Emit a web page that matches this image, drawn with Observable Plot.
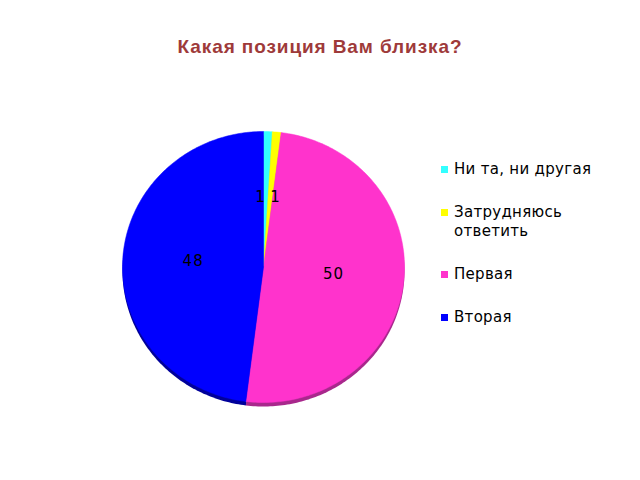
<!DOCTYPE html>
<html><head><meta charset="utf-8">
<script src="https://cdn.jsdelivr.net/npm/d3@7"></script>
<script src="https://cdn.jsdelivr.net/npm/@observablehq/plot@0.6"></script>
<style>
body{margin:0;background:#fff;width:640px;height:480px;position:relative;overflow:hidden}
#title{height:80px;box-sizing:border-box;padding-top:35px;text-align:center;font:bold 19px "Liberation Sans",Arial,sans-serif;letter-spacing:0.9px;color:#9E3A3A;line-height:23px}
#legend{position:absolute;left:441px;top:160px;font:15px "DejaVu Sans",sans-serif;letter-spacing:0.3px;color:#000;line-height:19px}
.item{position:relative;padding-left:13px;margin-bottom:24px}
.sw{position:absolute;left:0;top:6px;width:7px;height:7px}
</style></head>
<body>
<div id="title">Какая позиция Вам близка?</div>
<div id="chart"></div>
<div id="legend"></div>
<script>
const categories = ["Ни та, ни другая", "Затрудняюсь ответить", "Первая", "Вторая"];
const legendLabels = ["Ни та, ни другая", "Затрудняюсь<br>ответить", "Первая", "Вторая"];
const values = [1, 1, 50, 48];
const colors = ["#33FFFF", "#FFFF00", "#FF33CC", "#0000FF"];
const shadeColors = ["#22AAAA", "#AAAA00", "#A8288C", "#00009A"];

const arcs = d3.pie().sort(null).value(d => d.value)(categories.map((c, i) => ({name: c, value: values[i], i})));

function slicePoints(a) {
  const pts = [{x: 0, y: 0}];
  const n = Math.max(2, Math.ceil((a.endAngle - a.startAngle) / (Math.PI / 180)));
  for (let k = 0; k <= n; k++) {
    const t = a.startAngle + (a.endAngle - a.startAngle) * k / n;
    pts.push({x: Math.sin(t), y: Math.cos(t)});
  }
  pts.push({x: 0, y: 0});
  return pts;
}

const labels = arcs.map(a => {
  const t = (a.startAngle + a.endAngle) / 2;
  const small = a.endAngle - a.startAngle < 0.2;
  return {x: 0.5 * Math.sin(t), y: 0.51 * Math.cos(t), text: String(a.data.value),
          anchor: small ? (a.data.i === 0 ? "end" : "start") : "middle"};
});

const marks = [];
arcs.forEach(a => marks.push(Plot.line(slicePoints(a), {x: "x", y: "y", fill: shadeColors[a.data.i], stroke: "none", dy: 4})));
arcs.forEach(a => marks.push(Plot.line(slicePoints(a), {x: "x", y: "y", fill: colors[a.data.i], stroke: colors[a.data.i], strokeWidth: 0.5})));
["end", "start", "middle"].forEach(anchor =>
  marks.push(Plot.text(labels.filter(d => d.anchor === anchor), {x: "x", y: "y", text: "text", textAnchor: anchor, dy: -1,
    fill: "#000", fontSize: 15, fontFamily: "DejaVu Sans", style: "letter-spacing:1px"})));

const plot = Plot.plot({
  width: 640, height: 400,
  marginLeft: 122, marginRight: 236, marginTop: 51, marginBottom: 78,
  x: {domain: [-1, 1], axis: null},
  y: {domain: [-1, 1], axis: null},
  marks
});
plot.querySelectorAll("text").forEach(t => t.style.letterSpacing = "1px");
document.getElementById("chart").appendChild(plot);

const leg = document.getElementById("legend");
categories.forEach((c, i) => {
  const d = document.createElement("div");
  d.className = "item";
  d.innerHTML = `<span class="sw" style="background:${colors[i]}"></span>${legendLabels[i]}`;
  leg.appendChild(d);
});
</script>
</body></html>
